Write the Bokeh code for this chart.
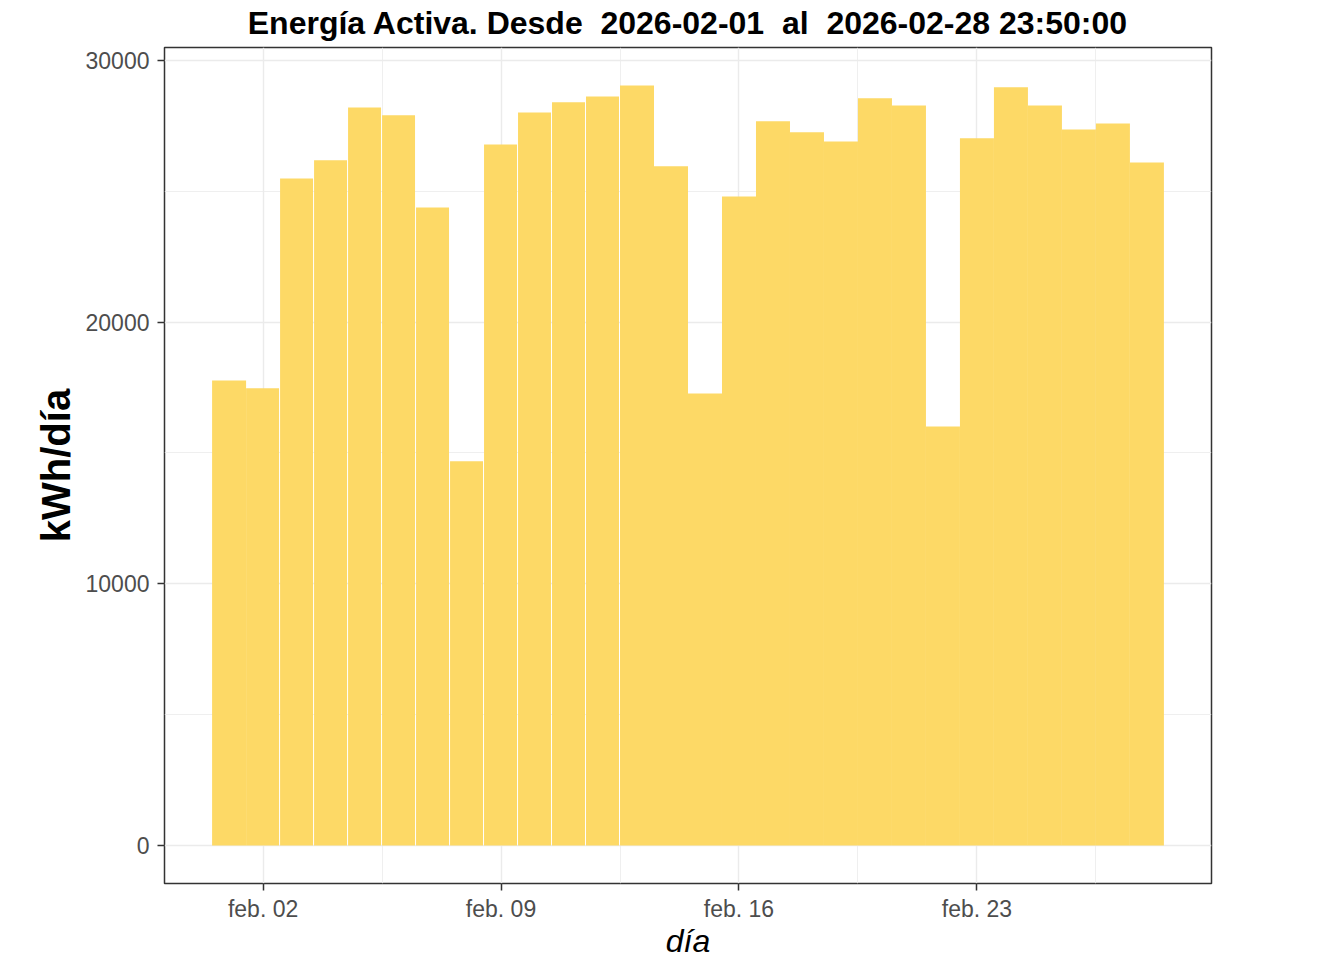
from bokeh.plotting import figure
from bokeh.models import Range1d, FixedTicker, NumeralTickFormatter, ColumnDataSource
from bokeh.embed import file_html
from bokeh.resources import INLINE

# ---- data ----
days = list(range(1, 29))  # February 2026, day of month
energy_kwh = [17770, 17470, 25490, 26180, 28200, 27900, 24380, 14680,
              26790, 28010, 28400, 28620, 29040, 25950, 17270, 24800,
              27670, 27250, 26900, 28550, 28280, 16010, 27020, 28970,
              28280, 27360, 27590, 26100]
x_tick_days = [2, 9, 16, 23]
x_tick_labels = ["feb. 02", "feb. 09", "feb. 16", "feb. 23"]
x_minor_days = [5.5, 12.5, 19.5, 26.5]
y_ticks = [0, 10000, 20000, 30000]
y_minor = [5000, 15000, 25000]
title_text = "Energía Activa. Desde  2026-02-01  al  2026-02-28 23:50:00"

FONT = "Liberation Sans"
BAR = "#FDD966"

# small 1px separators visible between some days in the original rendering
gap_days = set(range(2, 13))
left = [d - 0.5 for d in days]
right = [d + 0.5 - (0.03 if d in gap_days else 0.0) for d in days]
src = ColumnDataSource(dict(left=left, right=right, top=energy_kwh,
                            bottom=[0] * len(days)))

xspan = (max(days) + 0.5) - (min(days) - 0.5)
x0 = min(days) - 0.5 - 0.05 * xspan
x1 = max(days) + 0.5 + 0.05 * xspan
ymax = max(energy_kwh)

p = figure(output_backend="svg", toolbar_location=None,
           frame_width=1047, frame_height=836,
           min_border_left=164, min_border_right=133,
           min_border_top=47, min_border_bottom=77,
           x_range=Range1d(x0, x1), y_range=Range1d(-0.05 * ymax, 1.05 * ymax),
           background_fill_color="white", border_fill_color="white")

p.quad(left="left", right="right", top="top", bottom="bottom", source=src,
       fill_color=BAR, line_color=None)

# title (keep the doubled spaces visible)
p.title.text = title_text.replace("  ", " \u00a0")
p.title.align = "center"
p.title.vertical_align = "top"
p.title.text_font = FONT
p.title.text_font_style = "bold"
p.title.text_font_size = "32px"
p.title.text_color = "black"
p.title.standoff = 9

# outline (panel border)
p.outline_line_color = "#333333"
p.outline_line_width = 1.5

# x axis
xa = p.xaxis[0]
xa.ticker = FixedTicker(ticks=x_tick_days, minor_ticks=x_minor_days)
xa.major_label_overrides = {d: l for d, l in zip(x_tick_days, x_tick_labels)}
xa.axis_label = "día"
xa.axis_label_text_font = FONT
xa.axis_label_text_font_style = "italic"
xa.axis_label_text_font_size = "32px"
xa.axis_label_text_color = "black"
xa.axis_label_standoff = -2
xa.major_label_text_font = FONT
xa.major_label_text_font_size = "23px"
xa.major_label_text_color = "#4D4D4D"
xa.major_label_standoff = 5
xa.axis_line_color = None
xa.major_tick_line_color = "#333333"
xa.major_tick_line_width = 1.5
xa.major_tick_out = 7
xa.major_tick_in = 0
xa.minor_tick_line_color = None

# y axis
ya = p.yaxis[0]
ya.ticker = FixedTicker(ticks=y_ticks, minor_ticks=y_minor)
ya.formatter = NumeralTickFormatter(format="0")
ya.axis_label = "kWh/día"
ya.axis_label_text_font = FONT
ya.axis_label_text_font_style = "bold"
ya.axis_label_text_font_size = "40px"
ya.axis_label_text_color = "black"
ya.axis_label_standoff = 5
ya.major_label_text_font = FONT
ya.major_label_text_font_size = "23px"
ya.major_label_text_color = "#4D4D4D"
ya.major_label_standoff = 8
ya.axis_line_color = None
ya.major_tick_line_color = "#333333"
ya.major_tick_line_width = 1.5
ya.major_tick_out = 7
ya.major_tick_in = 0
ya.minor_tick_line_color = None

# grids
for g in (p.xgrid[0], p.ygrid[0]):
    g.grid_line_color = "#EBEBEB"
    g.grid_line_width = 1.4
    g.minor_grid_line_color = "#EBEBEB"
    g.minor_grid_line_width = 0.8

open("out.html", "w").write(file_html(p, INLINE))
